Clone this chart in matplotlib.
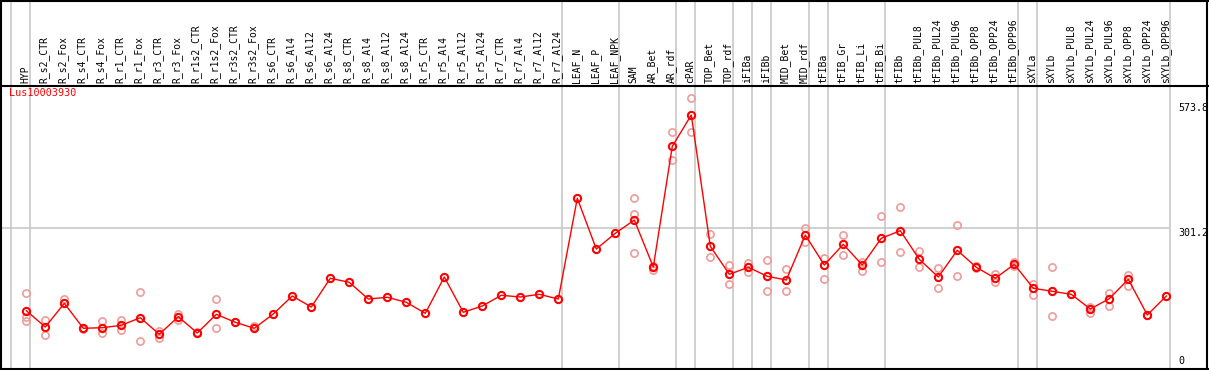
import matplotlib
matplotlib.use("Agg")
import matplotlib.pyplot as plt
from matplotlib.lines import Line2D
from matplotlib.transforms import blended_transform_factory

labels = ["HYP", "R_s2_CTR", "R_s2_Fox", "R_s4_CTR", "R_s4_Fox", "R_r1_CTR", "R_r1_Fox",
          "R_r3_CTR", "R_r3_Fox", "R_r1s2_CTR", "R_r1s2_Fox", "R_r3s2_CTR", "R_r3s2_Fox",
          "R_s6_CTR", "R_s6_Al4", "R_s6_Al12", "R_s6_Al24", "R_s8_CTR", "R_s8_Al4",
          "R_s8_Al12", "R_s8_Al24", "R_r5_CTR", "R_r5_Al4", "R_r5_Al12", "R_r5_Al24",
          "R_r7_CTR", "R_r7_Al4", "R_r7_Al12", "R_r7_Al24", "LEAF_N", "LEAF_P", "LEAF_NPK",
          "SAM", "AR_Bet", "AR_rdf", "cPAR", "TOP_Bet", "TOP_rdf", "iFIBa", "iFIBb",
          "MID_Bet", "MID_rdf", "tFIBa", "tFIB_Gr", "tFIB_Li", "tFIB_Bi", "tFIBb",
          "tFIBb_PUL8", "tFIBb_PUL24", "tFIBb_PUL96", "tFIBb_OPP8", "tFIBb_OPP24",
          "tFIBb_OPP96", "sXYLa", "sXYLb", "sXYLb_PUL8", "sXYLb_PUL24", "sXYLb_PUL96",
          "sXYLb_OPP8", "sXYLb_OPP24", "sXYLb_OPP96"]

means = [126.1, 91.4, 141.8, 88.7, 89.9, 95.0, 111.2, 75.9, 113.3, 78.7, 118.4, 101.4, 88.7,
         119.1, 157.3, 133.9, 195.0, 186.4, 150.9, 154.6, 143.9, 120.5, 197.7, 122.7, 136.1,
         158.8, 155.2, 160.9, 150.9, 365.0, 257.2, 290.6,
         318.9, 219.0, 475.6, 542.1, 263.0, 203.5, 218.3, 199.2, 191.3, 287.0,
         223.2, 267.2, 223.2, 280.0, 296.1, 235.3, 197.7, 254.5, 218.3, 195.0, 224.7,
         173.7, 167.3, 160.9, 129.7, 151.6, 192.8, 116.9, 157.3]

replicates = [[163.1, 113.3, 104.2], [105.7, 73.8], [150.3, 143.1], [87.5, 90.0],
              [104.2, 78.0], [106.3, 85.0], [165.2, 61.7], [82.9, 67.4], [119.0, 106.3],
              [78.0, 80.0], [150.3, 88.7], [101.4], [94.2],
              [], [], [], [], [], [], [], [], [], [], [], [], [], [], [], [],
              [], [], [],
              [365.0, 332.3, 248.7], [221.1, 212.6], [506.0, 445.8], [577.6, 506.0],
              [288.5, 239.6], [222.6, 183.5], [228.1, 207.7], [233.2, 167.3],
              [214.1, 167.3], [301.9, 271.7],
              [237.5, 193.5], [287.0, 243.8], [230.2, 211.1], [327.4, 229.0],
              [345.9, 250.2], [253.0, 219.6], [217.5, 173.7], [308.3, 200.5],
              [221.0, 217.0], [204.1, 187.7], [230.2, 221.0],
              [183.5, 158.4], [219.6, 114.8], [160.9], [120.5, 134.6], [163.1, 135.4],
              [202.0, 179.2], [116.9], [157.3]]

gene = "Lus10003930"
tick_values = [573.8, 301.2, 0]
tick_texts = ["573.8", "301.2", "0"]
group_ends = [-1, 0, 28, 31, 34, 35, 37, 38, 39, 41, 42, 45, 52, 53, 60]

W, H = 1209, 370
fig = plt.figure(figsize=(W / 100, H / 100), dpi=100)
fig.patch.set_facecolor("white")

def fx(px):
    return px / W

def fy(py):
    return (H - py) / H

left_px, right_px, top_px, bot_px = 0, 1170, 85, 369
ax = fig.add_axes([fx(left_px), fy(bot_px), fx(right_px - left_px), (bot_px - top_px) / H])
x0_px, step_px = 26.3, 19.0
xlo = (left_px - x0_px) / step_px
xhi = (right_px - x0_px) / step_px
k = 2.1259
ylo, yhi = (H - bot_px) * k, (H - top_px) * k
ax.axis("off")

xs = list(range(len(labels)))
grey = "#c8c8c8"
mono = "DejaVu Sans Mono"

ax.plot([xlo, xhi], [tick_values[1]] * 2, color=grey, lw=1.2, zorder=1)

for i, reps in enumerate(replicates):
    if reps:
        ax.plot([i] * len(reps), reps, linestyle="none", marker="o", markersize=5.2,
                markerfacecolor="none", markeredgecolor="#f09a9a", markeredgewidth=1.2, zorder=2)

ax.plot(xs, means, color="#ff0000", lw=1.0, marker="o", markersize=5.2,
        markerfacecolor="none", markeredgecolor="#ff0000", markeredgewidth=1.5, zorder=3)

ax.set_xlim(xlo, xhi)
ax.set_ylim(ylo, yhi)

# separators through full height (figure-level, positioned from group index)
for g in group_ends:
    sep_px = x0_px + step_px * g + 4.0
    fig.add_artist(Line2D([fx(sep_px)] * 2, [0, 1], color=grey, lw=1.2, zorder=0))

trans = blended_transform_factory(ax.transData, fig.transFigure)
for i, lab in enumerate(labels):
    ax.text(i - 0.05, fy(83), lab, rotation=90, ha="center", va="bottom", fontsize=7,
            family=mono, color="black", transform=trans, clip_on=False)

fig.text(fx(9), fy(98), gene, color="#ff0000", fontsize=7.3, family=mono, ha="left",
         va="bottom")

fig.text(fx(1178), fy(103), tick_texts[0], fontsize=7.2, family=mono, ha="left", va="top")
fig.text(fx(1178), fy(227.5), tick_texts[1], fontsize=7.2, family=mono, ha="left", va="top")
fig.text(fx(1178), fy(366), tick_texts[2], fontsize=7.2, family=mono, ha="left", va="bottom")

def hline(py, x1, x2, lw=1.5):
    fig.add_artist(Line2D([fx(x1), fx(x2)], [fy(py), fy(py)], color="black", lw=lw))

def vline(px, y1, y2, lw=1.5):
    fig.add_artist(Line2D([fx(px), fx(px)], [fy(y1), fy(y2)], color="black", lw=lw))

hline(0.5, 0, 1208)
hline(85.5, 0, 1208)
hline(369.3, 0, 1208)
vline(0.7, 0, 370)
vline(1207, 0, 370)

fig.savefig("out.png", dpi=100, facecolor="white")
